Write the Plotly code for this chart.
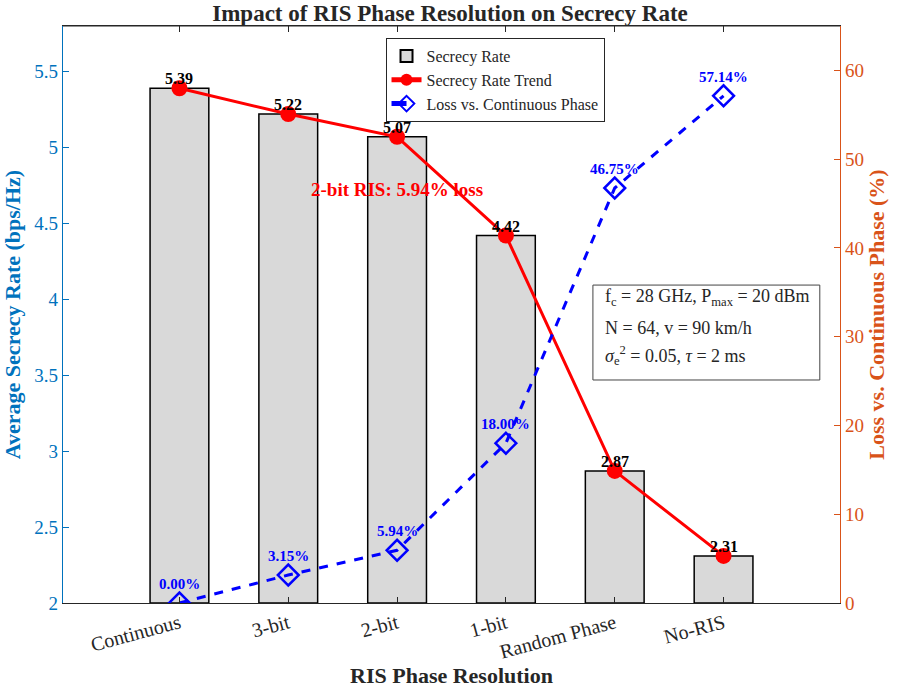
import plotly.graph_objects as go

categories = ["Continuous", "3-bit", "2-bit", "1-bit", "Random Phase", "No-RIS"]
secrecy_rate = [5.39, 5.22, 5.07, 4.42, 2.87, 2.31]
loss_pct = [0.00, 3.15, 5.94, 18.00, 46.75, 57.14]
left_ticks = [2, 2.5, 3, 3.5, 4, 4.5, 5, 5.5]
right_ticks = [0, 10, 20, 30, 40, 50, 60]
info_lines = [
    "f<sub>c</sub> = 28 GHz, P<sub>max</sub> = 20 dBm",
    "N = 64, v = 90 km/h",
    "<i>σ</i><sub>e</sub><sup>2</sup> = 0.05, <i>τ</i> = 2 ms",
]

FONT = "Liberation Serif, Times New Roman, serif"
BLUE_AX = "#0072BD"
ORANGE_AX = "#D95319"

xs = list(range(len(categories)))

fig = go.Figure()
fig.add_trace(go.Bar(
    x=xs, y=[v - 2 for v in secrecy_rate], base=2, width=0.54,
    marker=dict(color="#D9D9D9", line=dict(color="black", width=1.5)),
    name="Secrecy Rate", yaxis="y", hoverinfo="skip"))
fig.add_trace(go.Scatter(
    x=xs, y=secrecy_rate, mode="lines+markers", name="Secrecy Rate Trend",
    line=dict(color="#FF0000", width=3),
    marker=dict(symbol="circle", size=16, color="#FF0000"), yaxis="y"))
fig.add_trace(go.Scatter(
    x=xs, y=loss_pct, mode="lines+markers", name="Loss vs. Continuous Phase",
    line=dict(color="#0000FF", width=3, dash="dash"),
    marker=dict(symbol="diamond-open", size=16, color="#0000FF", line=dict(width=2.5)),
    yaxis="y2"))

annotations = []
for x, v in zip(xs, secrecy_rate):
    annotations.append(dict(x=x, y=v, xref="x", yref="y", text=f"<b>{v:.2f}</b>",
                            showarrow=False, yanchor="bottom", yshift=-1,
                            font=dict(family=FONT, size=16, color="black")))
for x, v in zip(xs, loss_pct):
    annotations.append(dict(x=x, y=v, xref="x", yref="y2", text=f"<b>{v:.2f}%</b>",
                            showarrow=False, yanchor="bottom", yshift=9,
                            font=dict(family=FONT, size=15, color="#0000FF")))
annotations.append(dict(x=2, y=4.72, xref="x", yref="y", text="<b>2-bit RIS: 5.94% loss</b>",
                        showarrow=False, font=dict(family=FONT, size=19, color="#FF0000")))

# info box: border rectangle + one annotation per line
box_x0, box_x1, box_y0, box_y1 = 0.682, 0.974, 0.3865, 0.551
line_y = [0.5286, 0.4766, 0.4281]
for txt, ly in zip(info_lines, line_y):
    annotations.append(dict(x=0.695, y=ly, xref="paper", yref="paper",
                            xanchor="left", yanchor="middle", align="left",
                            showarrow=False, text=txt,
                            font=dict(family=FONT, size=18, color="#262626")))

fig.update_layout(
    width=900, height=688,
    margin=dict(l=63, r=60, t=26, b=85, autoexpand=False),
    paper_bgcolor="white", plot_bgcolor="white",
    font=dict(family=FONT, size=17, color="#262626"),
    title=dict(text="<b>Impact of RIS Phase Resolution on Secrecy Rate</b>",
               x=0.5, xanchor="center", y=1 - 13 / 688, yanchor="middle",
               font=dict(family=FONT, size=23, color="#262626")),
    xaxis=dict(range=[-1.07, 6.07], tickmode="array", tickvals=xs, ticktext=categories,
               tickangle=-15, ticks="inside", ticklen=6, tickcolor="#262626",
               showline=True, linecolor="#262626", linewidth=1.2, mirror="ticks",
               showgrid=False, zeroline=False, automargin=False,
               tickfont=dict(family=FONT, size=20, color="#262626"),
               title=dict(text="<b>RIS Phase Resolution</b>", standoff=14,
                          font=dict(family=FONT, size=22, color="#262626"))),
    yaxis=dict(range=[2, 5.8], tickvals=left_ticks, ticktext=[f"{t:g}" for t in left_ticks],
               ticks="inside", ticklen=6, tickcolor=BLUE_AX,
               showline=True, linecolor=BLUE_AX, linewidth=1.2,
               showgrid=False, zeroline=False, automargin=False,
               tickfont=dict(family=FONT, size=19, color=BLUE_AX),
               title=dict(text="<b>Average Secrecy Rate (bps/Hz)</b>", standoff=8,
                          font=dict(family=FONT, size=22, color=BLUE_AX))),
    yaxis2=dict(range=[0, 65], tickvals=right_ticks, overlaying="y", side="right",
                ticks="inside", ticklen=6, tickcolor=ORANGE_AX,
                showline=True, linecolor=ORANGE_AX, linewidth=1.2,
                showgrid=False, zeroline=False, automargin=False,
                tickfont=dict(family=FONT, size=19, color=ORANGE_AX),
                title=dict(text="<b>Loss vs. Continuous Phase (%)</b>", standoff=4,
                           font=dict(family=FONT, size=22, color=ORANGE_AX))),
    legend=dict(x=0.556, y=0.979, xanchor="center", yanchor="top",
                bgcolor="white", bordercolor="#262626", borderwidth=1,
                font=dict(family=FONT, size=16, color="#262626"),
                tracegroupgap=0, itemsizing="constant"),
    showlegend=True,
    annotations=annotations,
    shapes=[
        dict(type="line", xref="paper", yref="paper", x0=0, x1=1, y0=1, y1=1,
             line=dict(color="#262626", width=1.2)),
        dict(type="rect", xref="paper", yref="paper", x0=box_x0, x1=box_x1,
             y0=box_y0, y1=box_y1, fillcolor="white", layer="below",
             line=dict(color="#444444", width=1)),
    ],
)

fig.write_html("out.html")
